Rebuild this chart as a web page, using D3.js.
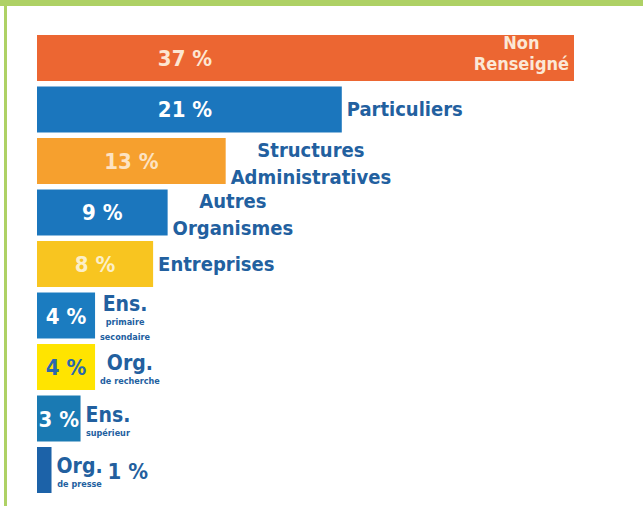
<!DOCTYPE html>
<html>
<head>
<meta charset="utf-8">
<script src="https://cdn.jsdelivr.net/npm/d3@7"></script>
<style>
  html, body { margin: 0; padding: 0; background: #fff; }
  svg { display: block; }
  text { font-family: "DejaVu Sans Condensed", "DejaVu Sans", sans-serif; font-weight: bold; }
</style>
</head>
<body>
<script>
// Répartition des demandeurs par type (en %)
const categories = [
  "Non Renseigné", "Particuliers", "Structures Administratives", "Autres Organismes",
  "Entreprises", "Ens. primaire secondaire", "Org. de recherche", "Ens. supérieur", "Org. de presse"
];
const values = [37, 21, 13, 9, 8, 4, 4, 3, 1];
const nameLines = [
  ["Non", "Renseigné"], ["Particuliers"], ["Structures", "Administratives"], ["Autres", "Organismes"],
  ["Entreprises"], ["Ens."], ["Org."], ["Ens."], ["Org."]
];
const subLines = [[], [], [], [], [], ["primaire", "secondaire"], ["de recherche"], ["supérieur"], ["de presse"]];
const barColors = ["#ec6632", "#1b76bd", "#f6a02e", "#1b76bd", "#f8c520", "#1b7cc0", "#ffe400", "#1a7ab3", "#1c62a8"];
const valueColors = ["#fde6d2", "#ffffff", "#fde3c2", "#ffffff", "#fcefc8", "#ffffff", "#2a68ad", "#ffffff", "#245f9e"];
const nameColor = "#22609f";

const W = 643, H = 506;
const svg = d3.select("body").append("svg").attr("width", W).attr("height", H);

// cadre vert (bandeau haut + filet gauche)
svg.append("rect").attr("x", 0).attr("y", 0).attr("width", W).attr("height", 6).attr("fill", "#aed165");
svg.append("rect").attr("x", 4).attr("y", 0).attr("width", 3).attr("height", H).attr("fill", "#aed165");

const x = d3.scaleLinear().domain([0, 37]).range([37, 574]);
const y = d3.scaleBand().domain(categories).range([35, 493]).paddingInner(0.107).paddingOuter(0);

const g = svg.append("g");
const rows = g.selectAll("g.row").data(categories).join("g").attr("class", "row");

rows.append("rect")
  .attr("x", x(0))
  .attr("y", d => y(d))
  .attr("width", (d, i) => x(values[i]) - x(0))
  .attr("height", y.bandwidth())
  .attr("fill", (d, i) => barColors[i]);

const maxV = d3.max(values);

rows.each(function (d, i) {
  const row = d3.select(this);
  const cy = y(d) + y.bandwidth() / 2;
  const end = x(values[i]);
  const inside = values[i] === maxV;
  const lines = nameLines[i];
  const subs = subLines[i];

  // libellé de la catégorie
  const lab = row.append("g");
  const fs = inside ? 18 : (subs.length ? 21 : 20);
  let offsets;
  if (inside) offsets = [-9, 12];
  else if (lines.length === 2) offsets = [-4, 23];
  else if (subs.length) offsets = [subs.length === 2 ? -5 : 3];
  else offsets = [7];

  const ts = lines.map((t, k) => lab.append("text")
    .attr("y", cy + offsets[k])
    .attr("font-size", fs)
    .attr("fill", inside ? "#fbe8d6" : nameColor)
    .text(t));
  const widths = ts.map(t => t.node().getComputedTextLength());
  const wmax = d3.max(widths);

  const subTs = subs.map((t, k) => lab.append("text")
    .attr("y", cy + offsets[0] + 14 + k * 15)
    .attr("font-size", 9)
    .attr("font-weight", "normal")
    .attr("fill", nameColor)
    .text(t));
  const subW = subTs.map(t => t.node().getComputedTextLength());
  const blockW = d3.max([wmax, ...subW]);

  const left = inside ? end - 5 - blockW : end + 5;
  ts.forEach((t, k) => t.attr("x", left + (blockW - widths[k]) / 2));
  subTs.forEach((t, k) => t.attr("x", left + (blockW - subW[k]) / 2));

  // valeur en %
  const barW = end - x(0);
  const vt = row.append("text")
    .attr("font-size", 22)
    .attr("fill", valueColors[i])
    .attr("y", cy + 8)
    .text(values[i] + " %");
  if (barW < 30) {
    vt.attr("x", left + blockW + 5).attr("y", cy + 9).attr("text-anchor", "start");
  } else {
    vt.attr("x", Math.min((x(0) + end) / 2, x(0) + 148)).attr("text-anchor", "middle");
  }
});
</script>
</body>
</html>
